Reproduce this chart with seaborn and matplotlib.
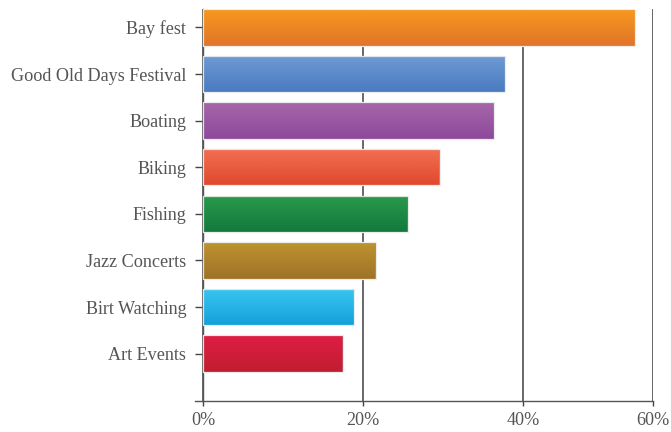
import numpy as np
import pandas as pd
import matplotlib
matplotlib.use("Agg")
import matplotlib.pyplot as plt
import seaborn as sns
from matplotlib.colors import to_rgb

# ---- data ----
categories = ["Bay fest", "Good Old Days Festival", "Boating", "Biking",
              "Fishing", "Jazz Concerts", "Birt Watching", "Art Events"]
values = [57.3, 37.8, 36.4, 29.6, 25.6, 21.6, 18.9, 17.5]
top_colors = ["#F7981D", "#6F9BD3", "#A666A9", "#F36F52",
              "#2A9A4B", "#BE932F", "#3AC5F1", "#E01E45"]
bottom_colors = ["#E1752A", "#4B7BC1", "#8D4A9B", "#E04A2E",
                 "#137A3E", "#9F7328", "#15A2DB", "#C11D30"]
tick_values = [0, 20, 40, 60]
tick_labels = ["0%", "20%", "40%", "60%"]

sns.set_theme(style="white")
plt.rcParams['font.family'] = ['Liberation Serif', 'DejaVu Serif']

W, H = 671, 432
fig = plt.figure(figsize=(W / 100, H / 100), dpi=100)
left_px, right_px, top_px, bottom_px = 195, 653, 9.25, 400.7
ax = fig.add_axes([left_px / W, 1 - bottom_px / H,
                   (right_px - left_px) / W, (bottom_px - top_px) / H])


def fwd(x):
    x = np.asarray(x, dtype=float)
    return np.where(x <= 40, x, 40 + (x - 40) * 0.8125)


def inv(y):
    y = np.asarray(y, dtype=float)
    return np.where(y <= 40, y, 40 + (y - 40) / 0.8125)


df = pd.DataFrame({"event": categories, "share": values})
mid_colors = [tuple((np.array(to_rgb(a)) + np.array(to_rgb(b))) / 2)
              for a, b in zip(top_colors, bottom_colors)]
sns.barplot(data=df, x="share", y="event", hue="event", palette=mid_colors,
            order=categories, hue_order=categories, width=0.78, legend=False,
            ax=ax, edgecolor=(1, 1, 1, 0.6), linewidth=0.8, zorder=3)

ax.set_xscale('function', functions=(fwd, inv))

# gradient overlay on each bar
for patch, c_top, c_bot in zip(ax.patches, top_colors, bottom_colors):
    x0, y0 = patch.get_x(), patch.get_y()
    w, h = patch.get_width(), patch.get_height()
    t = np.array(to_rgb(c_top))
    b = np.array(to_rgb(c_bot))
    n = 64
    grad = np.linspace(0, 1, n)[:, None]
    img = (t[None, :] * (1 - grad) + b[None, :] * grad)[:, None, :]
    im = ax.imshow(img, extent=(x0, x0 + w, y0 + h, y0), origin='upper',
                   aspect='auto', zorder=3.5, interpolation='bilinear')
    im.set_clip_path(patch)
    edge = plt.Rectangle((x0, y0), w, h, fill=False,
                         edgecolor=(0.93, 0.93, 0.93, 0.9), linewidth=0.9,
                         zorder=4)
    ax.add_patch(edge)

ax.set_xlim(-1, 60)
ax.set_ylim(len(categories) - 1 + 1.01, -0.39)
ax.set_xticks(tick_values)
ax.set_xticklabels(tick_labels)
ax.set_xlabel("")
ax.set_ylabel("")

ax.grid(axis='x', color='#555555', linewidth=1.25, zorder=0)
ax.grid(axis='y', visible=False)
ax.set_axisbelow(True)

for s in ['top', 'right']:
    ax.spines[s].set_visible(False)
ax.spines['left'].set_position(('data', 0))
ax.spines['left'].set_color('#555555')
ax.spines['left'].set_linewidth(1.0)
ax.spines['bottom'].set_color('#555555')
ax.spines['bottom'].set_linewidth(1.0)

ax.tick_params(axis='y', which='major', left=True, length=6, width=1,
               color='#444444', pad=6, labelsize=13.1, labelcolor='#555555')
ax.tick_params(axis='x', which='major', bottom=True, length=3.5, width=1,
               color='#444444', pad=4.5, labelsize=13.1, labelcolor='#555555')

fig.savefig("out.png", dpi=100)
